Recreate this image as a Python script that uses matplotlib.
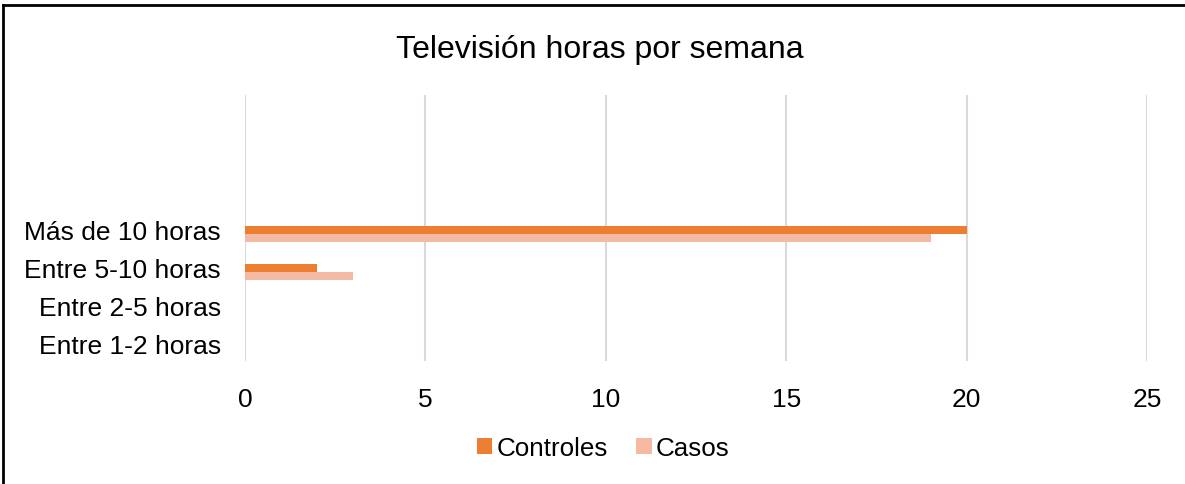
import matplotlib
matplotlib.use("Agg")
import matplotlib.pyplot as plt
from matplotlib.lines import Line2D
import numpy as np

categories = ["Entre 1-2 horas", "Entre 2-5 horas", "Entre 5-10 horas", "Más de 10 horas", "", "", ""]
controles = [0, 0, 2, 20, 0, 0, 0]
casos = [0, 0, 3, 19, 0, 0, 0]
xticks = [0, 5, 10, 15, 20, 25]
title = "Televisión horas por semana"

plt.rcParams['font.family'] = ['Liberation Sans', 'DejaVu Sans']

fig = plt.figure(figsize=(11.85, 4.85), dpi=100)
ax = fig.add_axes([245/1185, 1-362/485, (1147-245)/1185, (362-96)/485])

y = np.arange(len(categories))
h = 0.21
ax.barh(y - 0.05, controles, height=h, color="#ED7D31", label="Controles", zorder=3)
ax.barh(y - 0.05 - h, casos, height=h, color="#F4B9A2", label="Casos", zorder=3)

ax.set_xlim(0, 25)
ax.set_ylim(-0.5, 6.5)
ax.set_xticks(xticks)
ax.set_xticklabels([str(t) for t in xticks], fontsize=19)
ax.set_yticks(y - 0.05)
ax.set_yticklabels(categories, fontsize=19)
ax.tick_params(axis='both', length=0)
ax.tick_params(axis='x', pad=19)
ax.tick_params(axis='y', pad=17.5)
ax.grid(axis='x', color="#D9D9D9", linewidth=1.5, zorder=0)
for s in ax.spines.values():
    s.set_visible(False)

fig.text(600/1185, 1-50/485, title, ha='center', va='center', fontsize=23)

handles, labels = ax.get_legend_handles_labels()
fig.legend(handles, labels, loc='center', bbox_to_anchor=(603/1185, 1-449/485), ncol=2,
           frameon=False, fontsize=18.7, handlelength=0.6, handleheight=0.6,
           handletextpad=0.15, columnspacing=1.1)

fig.add_artist(Line2D([3/1185, 3/1185], [0, 1-6/485], transform=fig.transFigure, color='black', lw=2))
fig.add_artist(Line2D([3/1185, 1], [1-6/485, 1-6/485], transform=fig.transFigure, color='black', lw=2))

fig.savefig("out.png", dpi=100)
